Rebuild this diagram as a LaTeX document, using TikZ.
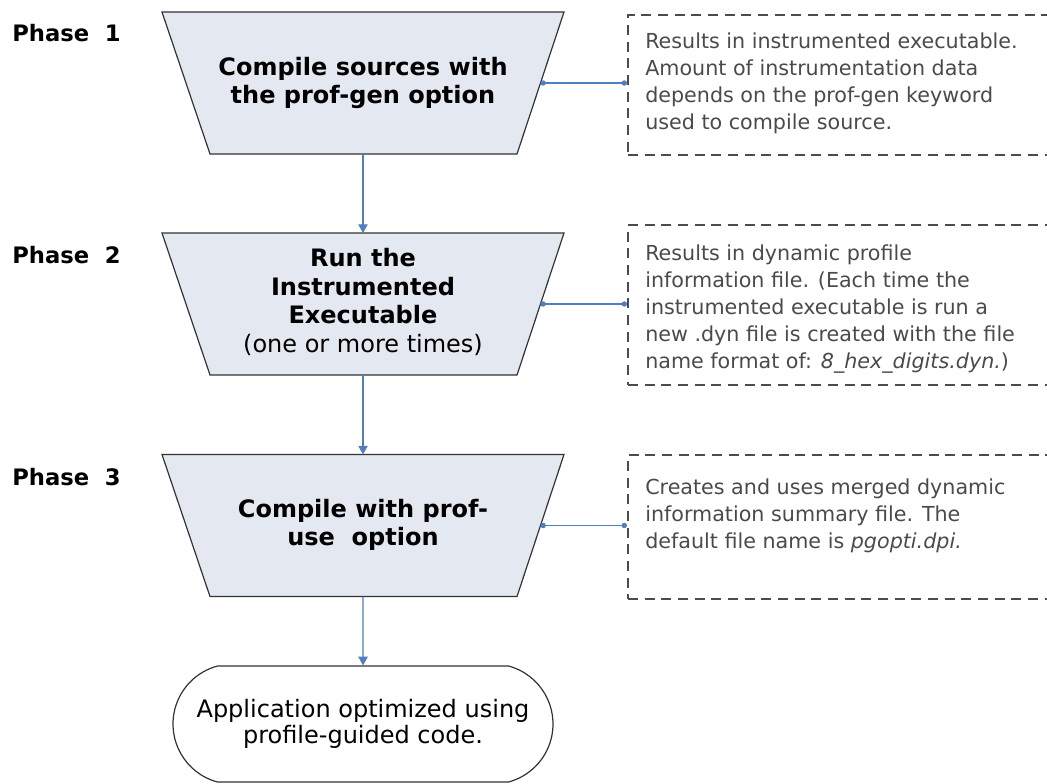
\documentclass[tikz,border=0pt]{standalone}
\usepackage{fontspec}
\setmainfont{DejaVu Sans}
\usetikzlibrary{shapes.misc,arrows.meta}
\definecolor{phasefill}{HTML}{E4E9F1}
\definecolor{linkblue}{HTML}{4F7FBF}
\definecolor{notegray}{HTML}{4A4A4A}
\begin{document}
\begin{tikzpicture}[x=0.75pt,y=-0.75pt,
  phase/.style={anchor=west,inner sep=0pt,font=\fontsize{17}{20}\selectfont\bfseries},
  trapshape/.style={draw=black!80,line width=0.9pt,fill=phasefill},
  traptext/.style={inner sep=0pt,align=center,font=\fontsize{18}{21.5}\selectfont},
  notebox/.style={anchor=north west,minimum width=325pt,inner sep=0pt,draw=black!70,
    line width=1.4pt,dash pattern=on 7.5pt off 5pt},
  note/.style={anchor=north west,inner sep=0pt,align=left,text=notegray,
    font=\fontsize{15.5}{20.2}\selectfont},
  goal/.style={rounded rectangle,rounded rectangle arc length=150,minimum width=287pt,
    minimum height=87pt,inner sep=1pt,draw=black!80,line width=0.9pt,align=center,
    font=\fontsize{18}{19.5}\selectfont},
  flow/.style={linkblue,line width=0.9pt,-{Triangle[width=7pt,length=6.5pt]}},
  link/.style={linkblue,line width=0.9pt,{Circle[length=4pt]}-{Circle[length=4pt]}}]
  \useasboundingbox (0,0) rectangle (1047,783);

  \foreach \n/\y in {1/83,2/304,3/525.5}{
    \filldraw[trapshape] (162,\y-71) -- (564,\y-71) -- (517,\y+71) -- (210,\y+71) -- cycle;
    \coordinate (t\n-n) at (363,\y-71);
    \coordinate (t\n-s) at (363,\y+71);
    \coordinate (t\n-e) at (540.5,\y);
  }

  \node[phase] (p1) at (12,33) {Phase\ \ 1};
  \node[phase] (p2) at (12,255) {Phase\ \ 2};
  \node[phase] (p3) at (12,477) {Phase\ \ 3};

  \node[traptext] (t1) at (363,83) {\textbf{Compile sources with}\\\textbf{the prof-gen option}};
  \node[traptext] (t2) at (363,302) {\textbf{Run the}\\\textbf{Instrumented}\\\textbf{Executable}\\(one or more times)};
  \node[traptext] (t3) at (363,525) {\textbf{Compile with prof-}\\\textbf{use\ \ option}};
  \node[goal] (app) at (363,724) {Application optimized using\\profile-guided code.};

  \node[notebox,minimum height=105pt] (b1) at (627,14) {};
  \node[notebox,minimum height=120pt] (b2) at (627,224) {};
  \node[notebox,minimum height=108pt] (b3) at (627,454) {};

  \node[note] (n1) at (645,33) {Results in instrumented executable.\\Amount of instrumentation data\\depends on the prof-gen keyword\\used to compile source.};
  \node[note] (n2) at (645,245) {Results in dynamic profile\\information file. (Each time the\\instrumented executable is run a\\new .dyn file is created with the file\\name format of: \textit{8\_hex\_digits.dyn.})};
  \node[note] (n3) at (645,479) {Creates and uses merged dynamic\\information summary file. The\\default file name is \textit{pgopti.dpi.}};

  \draw[flow] (t1-s) -- (t2-n);
  \draw[flow] (t2-s) -- (t3-n);
  \draw[flow] (t3-s) -- (app);

  \draw[link] (t1-e) -- (t1-e -| b1.west);
  \draw[link] (t2-e) -- (t2-e -| b2.west);
  \draw[link] (t3-e) -- (t3-e -| b3.west);
\end{tikzpicture}
\end{document}
